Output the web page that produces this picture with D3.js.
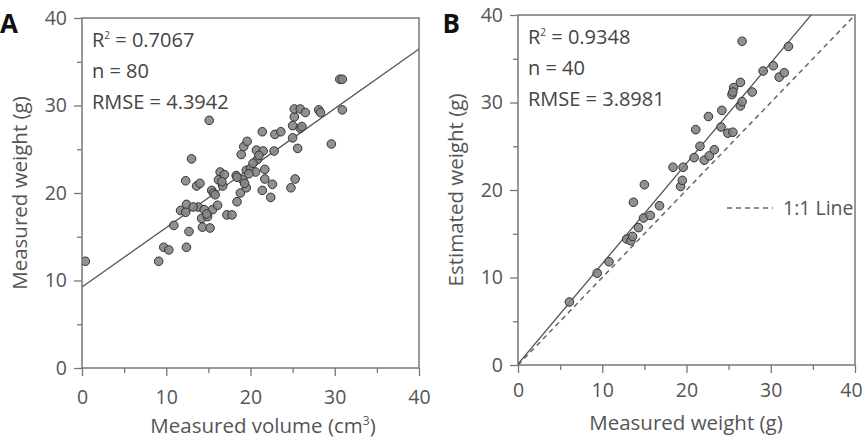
<!DOCTYPE html>
<html>
<head>
<meta charset="utf-8">
<script src="https://cdn.jsdelivr.net/npm/d3@7/dist/d3.min.js"></script>
<style>
body { margin: 0; background: #fff; }
text { font-family: "Open Sans", "DejaVu Sans", sans-serif; }
</style>
</head>
<body>
<svg id="chart" width="864" height="439"></svg>
<script>
// panel A : measured volume vs measured weight
var volumeA = [0.4, 9.1, 9.7, 10.3, 10.9, 12.4, 12.7, 13.0, 12.3, 11.7, 12.4, 12.3, 13.6, 14.0, 13.8, 14.2,
    14.3, 14.5, 14.9, 15.2, 15.1, 15.4, 15.6, 15.5, 16.1, 16.4, 16.2, 16.7, 16.9, 17.2, 17.8, 18.3,
    18.4, 18.8, 18.9, 19.2, 19.6, 19.1, 19.5, 19.5, 20.0, 20.6, 20.7, 20.8, 21.4, 21.5, 21.4, 21.7,
    21.7, 22.4, 22.6, 22.8, 22.9, 23.6, 24.8, 25.3, 25.0, 25.0, 25.2, 25.2, 25.6, 25.9, 25.9, 26.1,
    26.5, 28.1, 28.3, 29.6, 30.6, 30.9, 30.9, 18.4, 19.3, 19.8, 20.3, 16.6, 15.8, 14.8, 13.2, 21.0];
var weightA = [12.2, 12.2, 13.8, 13.5, 16.3, 13.8, 15.6, 23.9, 21.4, 18.0, 18.7, 17.8, 20.8, 21.1, 18.4, 17.1,
    16.1, 18.1, 17.3, 16.0, 28.3, 20.3, 20.0, 18.1, 18.6, 22.4, 21.5, 20.8, 22.1, 17.5, 17.5, 22.0,
    19.0, 20.0, 24.4, 25.3, 25.9, 21.5, 20.6, 22.6, 22.8, 22.4, 24.9, 23.8, 27.0, 24.8, 20.3, 22.7,
    21.6, 19.5, 21.0, 24.8, 26.7, 27.0, 20.6, 21.6, 26.3, 27.7, 28.7, 29.6, 25.1, 29.6, 27.4, 27.6,
    29.2, 29.5, 29.2, 25.6, 33.0, 33.0, 29.5, 21.8, 21.1, 22.2, 23.4, 21.3, 19.8, 17.6, 18.4, 24.3];
var fitA = [9.25, 0.68]; // intercept, slope
var statsA = ["0.7067", "n = 80", "RMSE = 4.3942"];

// panel B : measured weight vs estimated weight
var measuredB = [6.1, 9.4, 10.8, 12.9, 13.4, 13.6, 13.7, 14.3, 14.9, 15.0, 15.7, 16.8, 18.4, 19.3, 19.5, 19.6,
    20.9, 21.1, 21.6, 22.1, 22.7, 22.6, 23.3, 24.1, 24.2, 24.9, 25.5, 25.4, 25.6, 26.4, 26.4, 26.6,
    26.6, 27.8, 29.1, 30.3, 31.0, 31.6, 32.1, 25.5];
var estimatedB = [7.2, 10.5, 11.8, 14.4, 14.2, 14.7, 18.6, 15.7, 16.8, 20.6, 17.1, 18.2, 22.6, 20.4, 21.1, 22.6,
    23.7, 26.9, 25.0, 23.4, 23.9, 28.4, 24.6, 27.2, 29.1, 26.5, 26.6, 30.9, 31.7, 32.3, 29.6, 30.1,
    37.0, 31.2, 33.6, 34.2, 32.9, 33.4, 36.4, 31.2];
var fitB = [0.1, 1.147];
var statsB = ["0.9348", "n = 40", "RMSE = 3.8981"];

var axisTicks = [0, 10, 20, 30, 40];
var minorTicks = [5, 15, 25, 35];

var svg = d3.select("#chart");

function drawPanel(cfg) {
    var x = d3.scaleLinear().domain([0, 40]).range([cfg.left, cfg.right]);
    var y = d3.scaleLinear().domain([0, 40]).range([cfg.bottom, cfg.top]);
    var g = svg.append("g");

    // minor ticks
    g.append("g").attr("transform", "translate(0," + cfg.bottom + ")")
        .call(d3.axisBottom(x).tickValues(minorTicks).tickSize(5).tickFormat(""));
    g.append("g").attr("transform", "translate(" + cfg.left + ",0)")
        .call(d3.axisLeft(y).tickValues(minorTicks).tickSize(5).tickFormat(""));
    // major ticks
    var xAxis = g.append("g").attr("transform", "translate(0," + cfg.bottom + ")")
        .call(d3.axisBottom(x).tickValues(axisTicks).tickSize(8).tickPadding(cfg.xPad));
    g.append("g").attr("transform", "translate(" + cfg.left + ",0)")
        .call(d3.axisLeft(y).tickValues(axisTicks).tickSize(8).tickPadding(7));
    g.selectAll(".domain").remove();
    g.selectAll(".tick line").attr("stroke", "#777").attr("stroke-width", 1.3);
    g.selectAll(".tick text").attr("fill", "#555").style("font-size", "19.5px")
        .style("font-family", "'Open Sans', sans-serif");
    if (cfg.lastShift) {
        // keep the last label inside the window
        xAxis.selectAll(".tick text").filter(function (d) { return d === 40; }).attr("dx", cfg.lastShift);
    }

    // frame
    g.append("rect").attr("x", cfg.left).attr("y", cfg.top)
        .attr("width", cfg.right - cfg.left).attr("height", cfg.bottom - cfg.top)
        .attr("fill", "none").attr("stroke", "#777").attr("stroke-width", 1.5);

    var clipId = "clip" + cfg.name;
    svg.append("clipPath").attr("id", clipId).append("rect")
        .attr("x", cfg.left).attr("y", cfg.top)
        .attr("width", cfg.right - cfg.left).attr("height", cfg.bottom - cfg.top);
    var plot = g.append("g").attr("clip-path", "url(#" + clipId + ")");

    var line = d3.line().x(function (d) { return x(d[0]); }).y(function (d) { return y(d[1]); });
    if (cfg.oneToOne) {
        plot.append("path").datum([[0, 0], [40, 40]]).attr("d", line)
            .attr("fill", "none").attr("stroke", "#666").attr("stroke-width", 1.5)
            .attr("stroke-dasharray", "5,4");
    }
    var fitPts = [0, 40].map(function (v) { return [v, cfg.fit[0] + cfg.fit[1] * v]; });
    plot.append("path").datum(fitPts).attr("d", line)
        .attr("fill", "none").attr("stroke", "#555").attr("stroke-width", 1.3);

    var pts = cfg.xs.map(function (v, i) { return [v, cfg.ys[i]]; });
    plot.selectAll("circle").data(pts).enter().append("circle")
        .attr("cx", function (d) { return x(d[0]); })
        .attr("cy", function (d) { return y(d[1]); })
        .attr("r", 4.3)
        .attr("fill", "#858585").attr("fill-opacity", 0.9)
        .attr("stroke", "#333").attr("stroke-width", 1);

    // stats text
    var t = g.append("text").attr("x", cfg.left + 10).attr("y", cfg.top + 29)
        .attr("fill", "#444").style("font-size", "20px");
    t.append("tspan").text("R");
    t.append("tspan").attr("dy", -8).style("font-size", "10px").text("2");
    t.append("tspan").attr("dy", 8).text(" = " + cfg.stats[0]);
    g.append("text").attr("x", cfg.left + 10).attr("y", cfg.top + 60)
        .attr("fill", "#444").style("font-size", "20px").text(cfg.stats[1]);
    g.append("text").attr("x", cfg.left + 10).attr("y", cfg.top + 91)
        .attr("fill", "#444").style("font-size", "20px").text(cfg.stats[2]);

    // axis titles
    var xt = g.append("text").attr("x", cfg.xTitleX).attr("y", cfg.xTitleY)
        .attr("text-anchor", "middle").attr("fill", "#555").style("font-size", "20.5px");
    xt.append("tspan").text(cfg.xTitle);
    if (cfg.xSup) {
        xt.append("tspan").attr("dy", -8).style("font-size", "12px").text(cfg.xSup);
        xt.append("tspan").attr("dy", 8).text(")");
    }
    g.append("text").attr("transform", "translate(" + cfg.yTitleX + "," + ((cfg.top + cfg.bottom) / 2) + ") rotate(-90)")
        .attr("text-anchor", "middle").attr("fill", "#555").style("font-size", "20.5px").text(cfg.yTitle);

    // panel letter
    svg.append("text").attr("x", cfg.letterX).attr("y", cfg.letterY).attr("text-anchor", cfg.letterAnchor)
        .attr("fill", "#111").style("font-size", "26px").style("font-weight", "bold").text(cfg.name);

    return { x: x, y: y, g: g };
}

drawPanel({
    name: "A", left: 82, right: 419, top: 18, bottom: 368, xPad: 14,
    xs: volumeA, ys: weightA, fit: fitA, stats: statsA,
    xTitle: "Measured volume (cm", xSup: "3", xTitleX: 263, xTitleY: 433,
    yTitle: "Measured weight (g)", yTitleX: 27,
    letterX: 0, letterY: 33, letterAnchor: "start"
});

var panelB = drawPanel({
    name: "B", left: 518, right: 855, top: 15, bottom: 365, xPad: 10, lastShift: -4,
    xs: measuredB, ys: estimatedB, fit: fitB, stats: statsB, oneToOne: true,
    xTitle: "Measured weight (g)", xTitleX: 686, xTitleY: 430,
    yTitle: "Estimated weight (g)", yTitleX: 463,
    letterX: 460, letterY: 33, letterAnchor: "end"
});

// legend for the 1:1 line
panelB.g.append("line").attr("x1", 727).attr("x2", 773).attr("y1", 208).attr("y2", 208)
    .attr("stroke", "#666").attr("stroke-width", 1.5).attr("stroke-dasharray", "5,4");
panelB.g.append("text").attr("x", 783).attr("y", 215).attr("fill", "#555")
    .style("font-size", "19.5px").text("1:1 Line");
</script>
</body>
</html>
